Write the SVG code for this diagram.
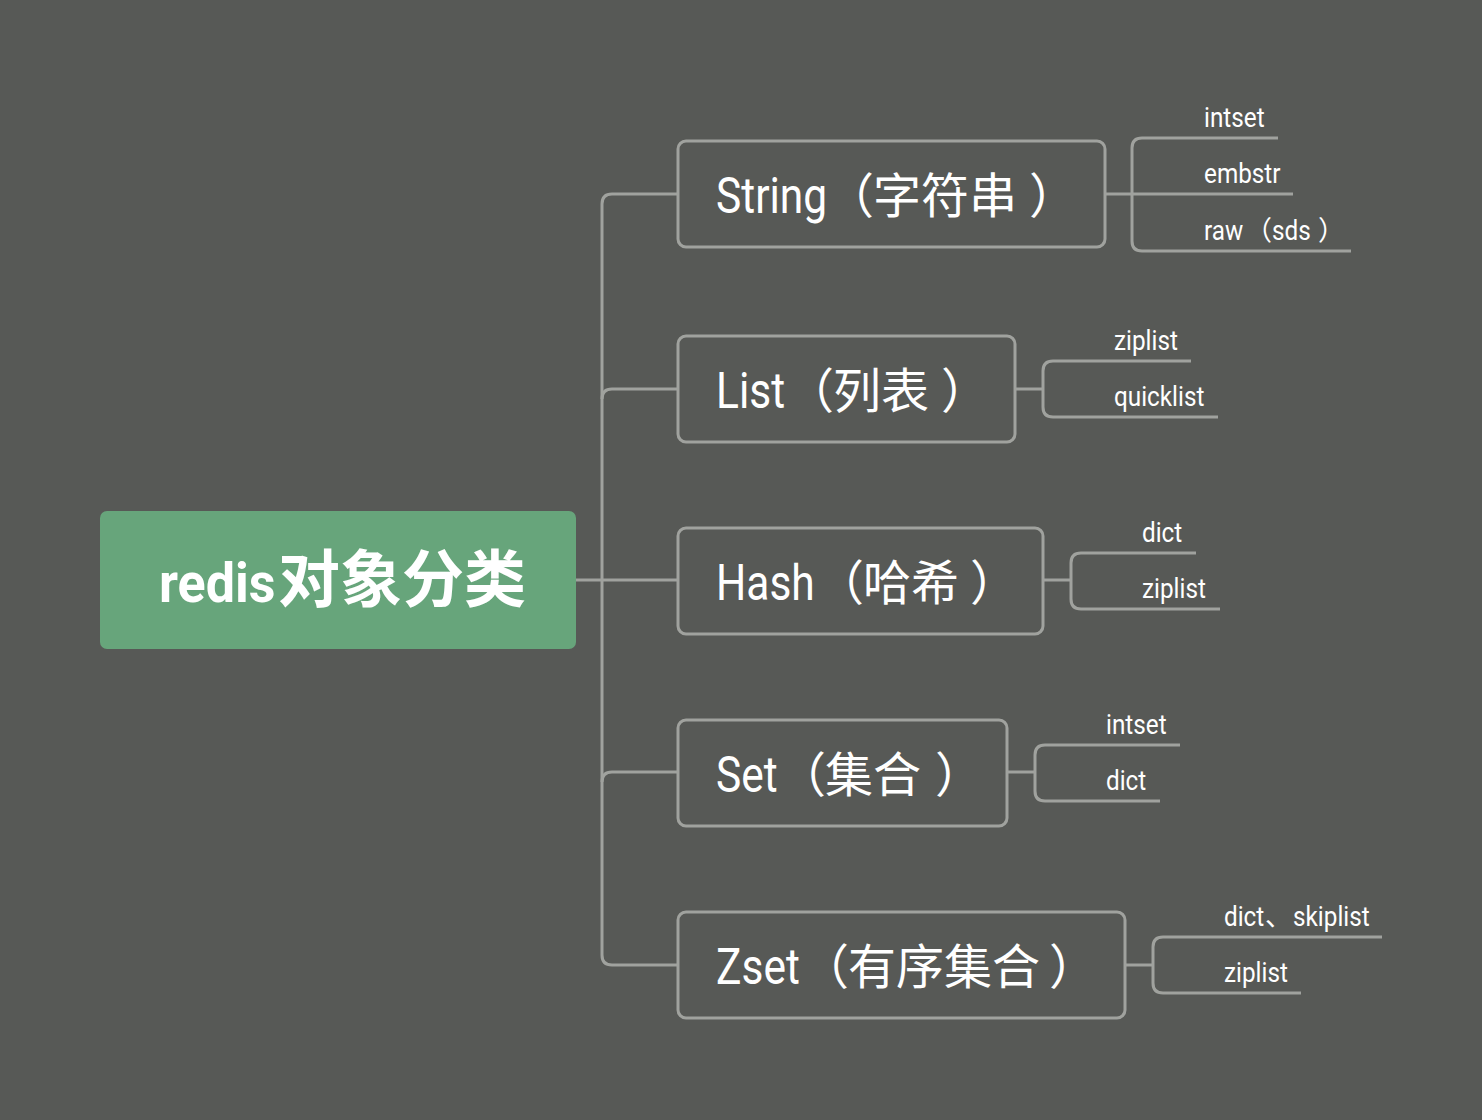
<svg xmlns="http://www.w3.org/2000/svg" width="1482" height="1120" viewBox="0 0 1482 1120">
<style>
.bg{fill:#575956}
.node rect{fill:none;stroke:#a0a29e;stroke-width:3}
.conn path{fill:none;stroke:#a0a29e;stroke-width:3}
.t{fill:#ffffff;font-family:Roboto,"Noto Sans CJK SC",sans-serif}
.nt{font-size:50px}
.cj{font-size:48px}
.st{font-size:27px}
.rt{font-weight:bold}
</style>
<rect class="bg" x="0" y="0" width="1482" height="1120"/>
<g id="connectors" class="conn">
<path d="M576,580 H678"/>
<path d="M678,194 H612 Q602,194 602,204 V955 Q602,965 612,965 H678"/>
<path d="M602,399 Q602,389 612,389 H678"/>
<path d="M602,782 Q602,772 612,772 H678"/>
<path d="M1105,194 H1293"/>
<path d="M1278,138 H1142 Q1132,138 1132,148 V241 Q1132,251 1142,251 H1351"/>
<path d="M1015,389 H1043"/>
<path d="M1191,361 H1053 Q1043,361 1043,371 V407 Q1043,417 1053,417 H1218"/>
<path d="M1043,580 H1071"/>
<path d="M1196,553 H1081 Q1071,553 1071,563 V599 Q1071,609 1081,609 H1220"/>
<path d="M1007,772 H1035"/>
<path d="M1180,745 H1045 Q1035,745 1035,755 V791 Q1035,801 1045,801 H1160"/>
<path d="M1125,965 H1153"/>
<path d="M1382,937 H1163 Q1153,937 1153,947 V983 Q1153,993 1163,993 H1301"/>
</g>
<g id="root">
<rect x="100" y="511" width="476" height="138" rx="7" fill="#67a57b"/>
<text class="t rt" font-size="56" transform="translate(159,602) scale(0.93,1)">redis</text>
<text class="t rt" font-size="62" x="278" y="602">对象分类</text>
</g>
<g id="string" class="node">
<rect x="678" y="141" width="427" height="106" rx="8"/>
<text class="t nt" transform="translate(716,213) scale(0.85,1)">String</text>
<text class="t cj" y="213"><tspan x="826">（</tspan><tspan x="873">字符串</tspan><tspan x="1029">）</tspan></text>
</g>
<g id="list" class="node">
<rect x="678" y="336" width="337" height="106" rx="8"/>
<text class="t nt" transform="translate(716,408) scale(0.85,1)">List</text>
<text class="t cj" y="408"><tspan x="786">（</tspan><tspan x="833">列表</tspan><tspan x="941">）</tspan></text>
</g>
<g id="hash" class="node">
<rect x="678" y="528" width="365" height="106" rx="8"/>
<text class="t nt" transform="translate(716,600) scale(0.85,1)">Hash</text>
<text class="t cj" y="600"><tspan x="816">（</tspan><tspan x="863">哈希</tspan><tspan x="970">）</tspan></text>
</g>
<g id="set" class="node">
<rect x="678" y="720" width="329" height="106" rx="8"/>
<text class="t nt" transform="translate(716,792) scale(0.85,1)">Set</text>
<text class="t cj" y="792"><tspan x="778">（</tspan><tspan x="825">集合</tspan><tspan x="935">）</tspan></text>
</g>
<g id="zset" class="node">
<rect x="678" y="912" width="447" height="106" rx="8"/>
<text class="t nt" transform="translate(716,984) scale(0.85,1)">Zset</text>
<text class="t cj" y="984"><tspan x="801">（</tspan><tspan x="848">有序集合</tspan><tspan x="1049">）</tspan></text>
</g>
<g id="string-intset"><text class="t st" transform="translate(1204,127) scale(0.9,1)">intset</text></g>
<g id="string-embstr"><text class="t st" transform="translate(1204,183) scale(0.9,1)">embstr</text></g>
<g id="string-raw">
<text class="t st" transform="translate(1204,240) scale(0.9,1)">raw</text>
<text class="t st" x="1245" y="240">（</text>
<text class="t st" transform="translate(1272,240) scale(0.9,1)">sds</text>
<text class="t st" x="1318" y="240">）</text>
</g>
<g id="list-ziplist"><text class="t st" transform="translate(1114,350) scale(0.9,1)">ziplist</text></g>
<g id="list-quicklist"><text class="t st" transform="translate(1114,406) scale(0.9,1)">quicklist</text></g>
<g id="hash-dict"><text class="t st" transform="translate(1142,542) scale(0.9,1)">dict</text></g>
<g id="hash-ziplist"><text class="t st" transform="translate(1142,598) scale(0.9,1)">ziplist</text></g>
<g id="set-intset"><text class="t st" transform="translate(1106,734) scale(0.9,1)">intset</text></g>
<g id="set-dict"><text class="t st" transform="translate(1106,790) scale(0.9,1)">dict</text></g>
<g id="zset-dictskiplist">
<text class="t st" transform="translate(1224,926) scale(0.9,1)">dict</text>
<text class="t st" x="1265" y="926">、</text>
<text class="t st" transform="translate(1293,926) scale(0.9,1)">skiplist</text>
</g>
<g id="zset-ziplist"><text class="t st" transform="translate(1224,982) scale(0.9,1)">ziplist</text></g>
</svg>
